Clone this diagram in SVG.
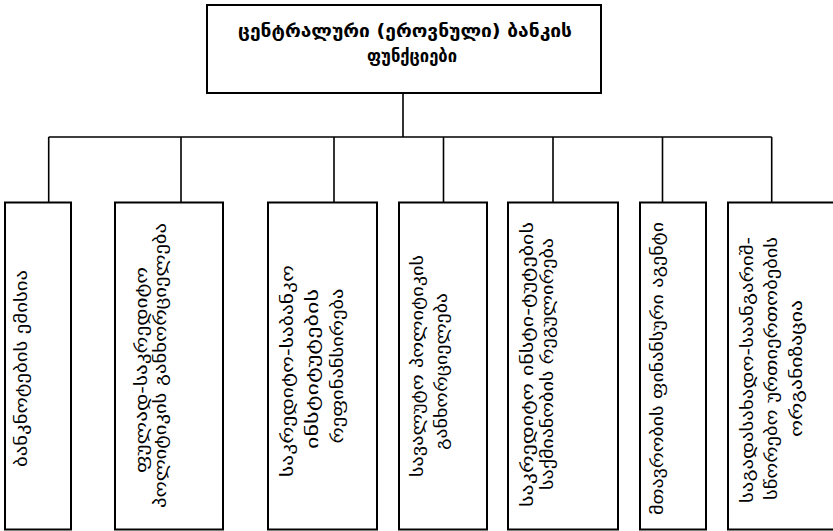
<svg xmlns="http://www.w3.org/2000/svg" width="833" height="531" viewBox="0 0 833 531">
<style>
.box{fill:#fff;stroke:#000;stroke-width:2}
.conn{fill:none;stroke:#000;stroke-width:1.6}
.t{font-family:"DejaVu Sans",sans-serif;font-size:17px;fill:#000;text-anchor:middle}
.tb{font-family:"DejaVu Sans",sans-serif;font-size:17px;font-weight:bold;fill:#000;text-anchor:middle}
</style>
<rect width="833" height="531" fill="#fff"/>
<g id="connectors">
<path class="conn" d="M403 93V137M48.7 137H771.7M48.7 137V202M181 137V202M334 137V202M443.5 137V202M553 137V202M662.5 137V202M771.7 137V202"/>
</g>
<g id="root">
<rect class="box" x="207" y="5" width="394" height="88"/>
<text class="tb" x="405" y="37" textLength="334" lengthAdjust="spacingAndGlyphs">ცენტრალური (ეროვნული) ბანკის</text>
<text class="tb" x="412" y="62" textLength="90" lengthAdjust="spacingAndGlyphs">ფუნქციები</text>
</g>
<g id="n1">
<rect class="box" x="5" y="202.5" width="66" height="327"/>
<text class="t" transform="translate(27,368.5) rotate(-90)" textLength="197" lengthAdjust="spacingAndGlyphs">ბანკნოტების ემისია</text>
</g>
<g id="n2">
<rect class="box" x="115" y="202.5" width="108" height="327"/>
<text class="t" transform="translate(147,370) rotate(-90)" textLength="206" lengthAdjust="spacingAndGlyphs">ფულად-საკრედიტო</text>
<text class="t" transform="translate(166,365.5) rotate(-90)" textLength="285" lengthAdjust="spacingAndGlyphs">პოლიტიკის განხორციელება</text>
</g>
<g id="n3">
<rect class="box" x="268" y="202.5" width="109" height="327"/>
<text class="t" transform="translate(293,371) rotate(-90)" textLength="212" lengthAdjust="spacingAndGlyphs">საკრედიტო-საბანკო</text>
<text class="t" transform="translate(318,369) rotate(-90)" textLength="160" lengthAdjust="spacingAndGlyphs">ინსტიტუტების</text>
<text class="t" transform="translate(343,366) rotate(-90)" textLength="155" lengthAdjust="spacingAndGlyphs">რეფინანსირება</text>
</g>
<g id="n4">
<rect class="box" x="399" y="202.5" width="88" height="327"/>
<text class="t" transform="translate(423,366) rotate(-90)" textLength="222" lengthAdjust="spacingAndGlyphs">სავალუტო პოლიტიკის</text>
<text class="t" transform="translate(447,371.5) rotate(-90)" textLength="157" lengthAdjust="spacingAndGlyphs">განხორციელება</text>
</g>
<g id="n5">
<rect class="box" x="508" y="202.5" width="110" height="327"/>
<text class="t" transform="translate(533,364.5) rotate(-90)" textLength="285" lengthAdjust="spacingAndGlyphs">საკრედიტო ინსტი-ტუტების</text>
<text class="t" transform="translate(553,364) rotate(-90)" textLength="252" lengthAdjust="spacingAndGlyphs">საქმიანობის რეგულირება</text>
</g>
<g id="n6">
<rect class="box" x="640" y="202.5" width="66" height="327"/>
<text class="t" transform="translate(663,368.5) rotate(-90)" textLength="293" lengthAdjust="spacingAndGlyphs">მთავრობის ფინანსური აგენტი</text>
</g>
<g id="n7">
<rect class="box" x="728" y="202.5" width="106" height="327"/>
<text class="t" transform="translate(753,370) rotate(-90)" textLength="266" lengthAdjust="spacingAndGlyphs">საგადასახადო-საანგარიშ-</text>
<text class="t" transform="translate(777,368.5) rotate(-90)" textLength="263" lengthAdjust="spacingAndGlyphs">სწორებო ურთიერთობების</text>
<text class="t" transform="translate(802,368.5) rotate(-90)" textLength="137" lengthAdjust="spacingAndGlyphs">ორგანიზაცია</text>
</g>
</svg>
